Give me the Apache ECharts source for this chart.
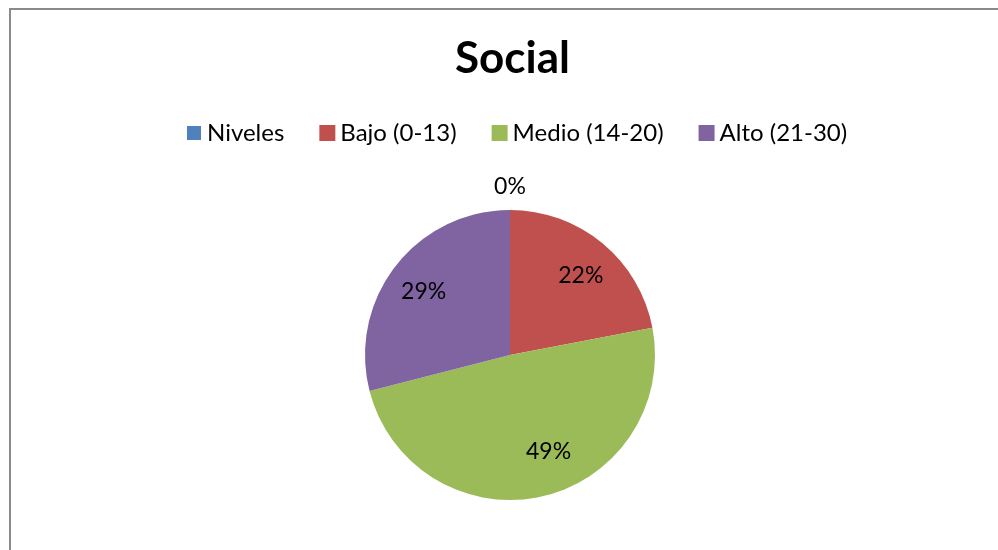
<!DOCTYPE html>
<html>
<head>
<meta charset="utf-8">
<script src="https://cdn.jsdelivr.net/npm/echarts@6/dist/echarts.min.js"></script>
<style>
html,body{margin:0;padding:0;background:#fff;}
#chart{width:998px;height:550px;}
</style>
</head>
<body>
<div id="chart"></div>
<script>
const titleText = 'Social';
const categories = ['Niveles', 'Bajo (0-13)', 'Medio (14-20)', 'Alto (21-30)'];
const values = [0, 22, 49, 29];
const colors = ['#4F81BD', '#C0504D', '#9BBB59', '#8064A2'];

const chart = echarts.init(document.getElementById('chart'));
const pieData = categories.map((name, i) => ({
  name: name,
  value: values[i],
  itemStyle: i === 0 ? { color: colors[i], borderColor: '#ffffff', borderWidth: 1.5 } : { color: colors[i] }
}));
const labelData = categories.map((name, i) => ({ name: name, value: values[i] }));

// small label nudges to mimic the original's best-fit label placement
function labelNudge(p) {
  switch (p.dataIndex) {
    case 0: return { dy: -60 };
    case 1: return { dx: 2, dy: 4 };
    case 2: return { dx: 15, dy: -9 };
    case 3: return { dx: -1, dy: 3 };
  }
  return {};
}

chart.setOption({
  animation: false,
  backgroundColor: '#ffffff',
  title: {
    text: titleText,
    left: 455,
    top: 37,
    padding: 0,
    textStyle: { fontFamily: 'Lato', fontWeight: 'bold', fontSize: 44, color: '#000' }
  },
  legend: {
    data: categories,
    left: 185,
    top: 121,
    padding: 0,
    icon: 'rect',
    itemWidth: 16,
    itemHeight: 16,
    itemGap: 35,
    textStyle: { fontFamily: 'Lato', fontSize: 24, color: '#000' }
  },
  graphic: [{
    type: 'rect',
    shape: { x: 10, y: 9, width: 1100, height: 700 },
    style: { fill: 'none', stroke: '#8a8a8a', lineWidth: 2 },
    silent: true,
    z: 100
  }],
  series: [
    {
      type: 'pie',
      center: [510, 355],
      radius: [0, 145],
      startAngle: 90,
      clockwise: true,
      label: { show: false },
      labelLine: { show: false },
      emphasis: { disabled: true },
      data: pieData
    },
    {
      type: 'pie',
      center: [510, 355],
      radius: [65, 145],
      startAngle: 90,
      clockwise: true,
      silent: true,
      itemStyle: { color: 'rgba(0,0,0,0)' },
      label: {
        show: true,
        position: 'inside',
        formatter: p => p.value + '%',
        fontFamily: 'Lato',
        fontSize: 23,
        color: '#000'
      },
      labelLine: { show: false },
      labelLayout: labelNudge,
      emphasis: { disabled: true },
      data: labelData
    }
  ]
});
</script>
</body>
</html>
